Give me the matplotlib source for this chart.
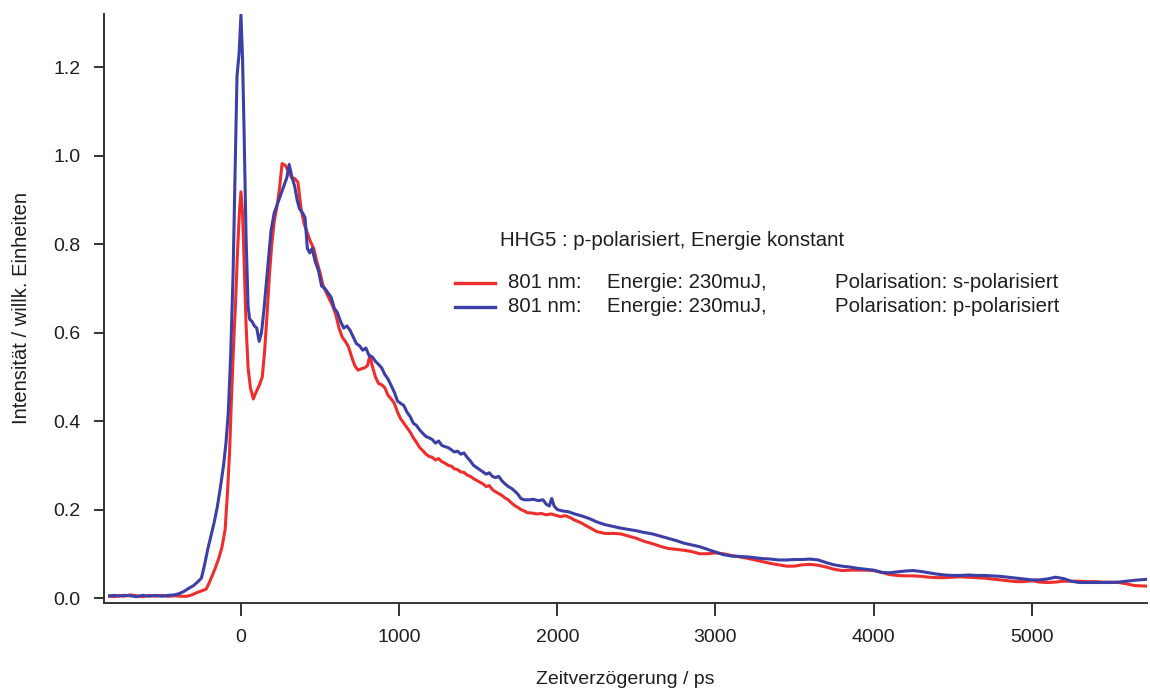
import matplotlib
matplotlib.use("Agg")
import matplotlib.pyplot as plt
from matplotlib.lines import Line2D
import numpy as np

plt.rcParams['font.family'] = ['Liberation Sans', 'DejaVu Sans']

# ---------------- data ----------------
t_blue = [-830, -800, -770, -740, -700, -660, -620, -580, -540, -500, -460, -420, -390, -360, -330, -300,
          -275, -250, -230, -210, -190, -170, -150, -130, -110, -95, -80, -65, -50, -38, -25, -12, 0, 10,
          20, 32, 45, 55, 70, 85, 100, 115, 130, 145, 160, 175, 190, 210, 230, 250, 270, 290, 305, 320,
          340, 355, 370, 390, 405, 420, 435, 450, 470, 490, 510, 530, 550, 570, 590, 610, 630, 650, 670,
          690, 710, 730, 750, 770, 790, 810, 830, 850, 870, 890, 910, 930, 950, 970, 990, 1010, 1030,
          1050, 1070, 1090, 1110, 1130, 1150, 1170, 1190, 1210, 1230, 1250, 1270, 1290, 1310, 1330, 1350,
          1370, 1390, 1410, 1430, 1450, 1470, 1490, 1510, 1530, 1550, 1570, 1590, 1610, 1630, 1650, 1670,
          1690, 1710, 1730, 1750, 1770, 1790, 1820, 1850, 1880, 1910, 1930, 1950, 1965, 1980, 2000, 2030,
          2070, 2110, 2150, 2200, 2250, 2300, 2350, 2400, 2450, 2500, 2550, 2600, 2650, 2700, 2750, 2800,
          2850, 2900, 2950, 3000, 3050, 3100, 3150, 3200, 3250, 3300, 3350, 3400, 3450, 3500, 3550, 3600,
          3650, 3700, 3750, 3800, 3850, 3900, 3950, 4000, 4050, 4100, 4150, 4200, 4250, 4300, 4350, 4400,
          4450, 4500, 4550, 4600, 4650, 4700, 4750, 4800, 4850, 4900, 4950, 5000, 5050, 5100, 5150, 5200,
          5250, 5300, 5350, 5400, 5450, 5500, 5550, 5600, 5650, 5720]
v_blue = [0.005, 0.006, 0.004, 0.006, 0.005, 0.003, 0.006, 0.004, 0.006, 0.004, 0.006, 0.007, 0.010, 0.015,
          0.022, 0.028, 0.036, 0.045, 0.075, 0.110, 0.140, 0.170, 0.205, 0.250, 0.300, 0.350, 0.420, 0.550,
          0.730, 0.950, 1.180, 1.230, 1.318, 1.220, 1.050, 0.820, 0.660, 0.630, 0.625, 0.615, 0.610, 0.580,
          0.600, 0.650, 0.710, 0.770, 0.830, 0.870, 0.890, 0.910, 0.930, 0.950, 0.980, 0.955, 0.930, 0.900,
          0.880, 0.870, 0.860, 0.790, 0.780, 0.790, 0.760, 0.740, 0.705, 0.700, 0.690, 0.680, 0.655, 0.645,
          0.625, 0.610, 0.615, 0.605, 0.590, 0.575, 0.570, 0.560, 0.565, 0.548, 0.545, 0.535, 0.528, 0.520,
          0.505, 0.495, 0.480, 0.465, 0.445, 0.440, 0.435, 0.420, 0.410, 0.395, 0.390, 0.380, 0.372, 0.365,
          0.362, 0.358, 0.350, 0.355, 0.345, 0.342, 0.340, 0.335, 0.330, 0.332, 0.325, 0.328, 0.318, 0.310,
          0.300, 0.295, 0.290, 0.285, 0.280, 0.283, 0.275, 0.272, 0.275, 0.265, 0.258, 0.252, 0.248, 0.242,
          0.235, 0.225, 0.222, 0.222, 0.223, 0.220, 0.222, 0.212, 0.208, 0.225, 0.208, 0.200, 0.197, 0.195,
          0.190, 0.186, 0.180, 0.172, 0.166, 0.162, 0.158, 0.155, 0.152, 0.148, 0.145, 0.140, 0.135, 0.130,
          0.124, 0.120, 0.116, 0.110, 0.104, 0.098, 0.095, 0.094, 0.093, 0.091, 0.089, 0.088, 0.086, 0.086,
          0.087, 0.087, 0.088, 0.086, 0.080, 0.075, 0.072, 0.070, 0.067, 0.065, 0.063, 0.058, 0.057, 0.059,
          0.061, 0.062, 0.060, 0.057, 0.054, 0.052, 0.051, 0.051, 0.052, 0.051, 0.051, 0.050, 0.049, 0.047,
          0.045, 0.043, 0.041, 0.041, 0.043, 0.047, 0.044, 0.038, 0.035, 0.035, 0.035, 0.035, 0.035, 0.036,
          0.038, 0.040, 0.042]

t_red = [-830, -800, -770, -740, -700, -660, -620, -580, -540, -500, -460, -420, -380, -340, -310, -280,
         -250, -220, -200, -180, -160, -140, -120, -100, -85, -72, -60, -48, -35, -22, -10, 0, 10, 20, 32,
         45, 60, 78, 95, 115, 135, 150, 165, 180, 195, 210, 230, 245, 260, 280, 300, 320, 340, 360, 380,
         400, 420, 440, 460, 480, 500, 520, 540, 560, 580, 600, 620, 640, 660, 680, 700, 720, 740, 760,
         780, 800, 815, 830, 850, 870, 890, 910, 930, 950, 970, 990, 1010, 1030, 1050, 1070, 1090, 1110,
         1130, 1150, 1170, 1190, 1210, 1230, 1250, 1270, 1290, 1310, 1330, 1350, 1370, 1390, 1410, 1430,
         1450, 1470, 1490, 1510, 1530, 1550, 1570, 1590, 1610, 1630, 1650, 1670, 1690, 1710, 1730, 1750,
         1770, 1790, 1810, 1840, 1870, 1900, 1930, 1960, 1990, 2020, 2050, 2080, 2110, 2150, 2200, 2250,
         2300, 2350, 2400, 2450, 2500, 2550, 2600, 2650, 2700, 2750, 2800, 2850, 2900, 2950, 3000, 3050,
         3100, 3150, 3200, 3250, 3300, 3350, 3400, 3450, 3500, 3550, 3600, 3650, 3700, 3750, 3800, 3850,
         3900, 3950, 4000, 4050, 4100, 4150, 4200, 4250, 4300, 4350, 4400, 4450, 4500, 4550, 4600, 4650,
         4700, 4750, 4800, 4850, 4900, 4950, 5000, 5050, 5100, 5150, 5200, 5250, 5300, 5350, 5400, 5450,
         5500, 5550, 5600, 5650, 5720]
v_red = [0.004, 0.003, 0.006, 0.004, 0.007, 0.005, 0.003, 0.006, 0.004, 0.006, 0.004, 0.005, 0.004, 0.004,
         0.007, 0.012, 0.016, 0.020, 0.035, 0.052, 0.070, 0.090, 0.115, 0.155, 0.240, 0.330, 0.450, 0.560,
         0.660, 0.780, 0.870, 0.918, 0.870, 0.760, 0.620, 0.520, 0.475, 0.450, 0.465, 0.480, 0.500, 0.560,
         0.640, 0.730, 0.800, 0.850, 0.890, 0.930, 0.982, 0.978, 0.965, 0.950, 0.948, 0.940, 0.880, 0.845,
         0.825, 0.805, 0.790, 0.760, 0.735, 0.705, 0.690, 0.675, 0.660, 0.640, 0.610, 0.590, 0.580, 0.568,
         0.545, 0.525, 0.515, 0.518, 0.520, 0.525, 0.548, 0.525, 0.500, 0.485, 0.482, 0.475, 0.458, 0.450,
         0.440, 0.420, 0.405, 0.395, 0.385, 0.375, 0.362, 0.352, 0.340, 0.333, 0.325, 0.320, 0.318, 0.312,
         0.315, 0.308, 0.305, 0.300, 0.298, 0.292, 0.290, 0.285, 0.284, 0.278, 0.275, 0.270, 0.266, 0.262,
         0.258, 0.252, 0.254, 0.245, 0.240, 0.236, 0.232, 0.226, 0.222, 0.215, 0.209, 0.205, 0.200, 0.197,
         0.193, 0.192, 0.190, 0.191, 0.188, 0.190, 0.187, 0.184, 0.186, 0.182, 0.176, 0.170, 0.160, 0.150,
         0.146, 0.146, 0.145, 0.140, 0.135, 0.128, 0.123, 0.117, 0.112, 0.110, 0.108, 0.105, 0.100, 0.100,
         0.102, 0.100, 0.096, 0.093, 0.090, 0.086, 0.082, 0.078, 0.075, 0.072, 0.072, 0.075, 0.076, 0.074,
         0.070, 0.065, 0.062, 0.063, 0.063, 0.063, 0.062, 0.058, 0.053, 0.051, 0.050, 0.050, 0.049, 0.047,
         0.046, 0.046, 0.047, 0.048, 0.047, 0.046, 0.045, 0.043, 0.041, 0.039, 0.037, 0.037, 0.039, 0.036,
         0.035, 0.036, 0.038, 0.038, 0.038, 0.037, 0.037, 0.036, 0.036, 0.035, 0.032, 0.028, 0.027]

x_ticks = [0, 1000, 2000, 3000, 4000, 5000]
y_ticks = [0.0, 0.2, 0.4, 0.6, 0.8, 1.0, 1.2]

title_text = "HHG5 : p-polarisiert, Energie konstant"
col_wl = ["801 nm:", "801 nm:"]
col_en = ["Energie: 230muJ,", "Energie: 230muJ,"]
col_pol = ["Polarisation: s-polarisiert", "Polarisation: p-polarisiert"]

RED = '#EE2D2D'
BLUE = '#3C3FA5'
TXT = '#1e1e1e'

# ---------------- figure ----------------
fig = plt.figure(figsize=(11.5, 6.93), dpi=100)
ax = fig.add_axes([104 / 1150, 1 - 603 / 693, 1043 / 1150, 589 / 693])

ax.plot(t_red, v_red, color=RED, lw=2.2, solid_joinstyle='round')
ax.plot(t_blue, v_blue, color=BLUE, lw=2.2, solid_joinstyle='round')

ax.set_xlim(-866, 5729)
ax.set_ylim(-0.0113, 1.32)

ax.set_xticks(x_ticks)
ax.set_xticklabels([str(v) for v in x_ticks])
ax.set_yticks(y_ticks)
ax.set_yticklabels([f"{v:.1f}" for v in y_ticks])

for s in ['top', 'right']:
    ax.spines[s].set_visible(False)
for s in ['left', 'bottom']:
    ax.spines[s].set_color('#333333')
    ax.spines[s].set_linewidth(1.4)

ax.tick_params(axis='x', direction='out', length=9, width=1.4, color='#333333',
               labelsize=14, pad=10, labelcolor=TXT)
ax.tick_params(axis='y', direction='out', length=7, width=1.4, color='#333333',
               labelsize=14, pad=10, labelcolor=TXT)

ax.set_xlabel("Zeitverzögerung / ps", fontsize=14, labelpad=18, color=TXT)
ax.set_ylabel("Intensität / willk. Einheiten", fontsize=14.5, labelpad=16, color=TXT)

# ---------------- legend-like annotation ----------------
def ax_x(px):
    return (px - 104) / 1043

def ax_y(py):
    return (603 - py) / 589

FS_LEG = 14.7
ax.text(ax_x(500), ax_y(241), title_text, transform=ax.transAxes, fontsize=FS_LEG,
        va='center', ha='left', color=TXT)

rows_y = [283, 307]
colors = [RED, BLUE]
for i in range(2):
    yy = ax_y(rows_y[i])
    ax.add_line(Line2D([ax_x(455), ax_x(495)], [yy, yy], transform=ax.transAxes,
                       color=colors[i], lw=2.4))
    ax.text(ax_x(508), yy, col_wl[i], transform=ax.transAxes, fontsize=FS_LEG,
            va='center', ha='left', color=TXT)
    ax.text(ax_x(607), yy, col_en[i], transform=ax.transAxes, fontsize=FS_LEG,
            va='center', ha='left', color=TXT)
    ax.text(ax_x(835), yy, col_pol[i], transform=ax.transAxes, fontsize=FS_LEG,
            va='center', ha='left', color=TXT)

fig.savefig("out.png", dpi=100)
